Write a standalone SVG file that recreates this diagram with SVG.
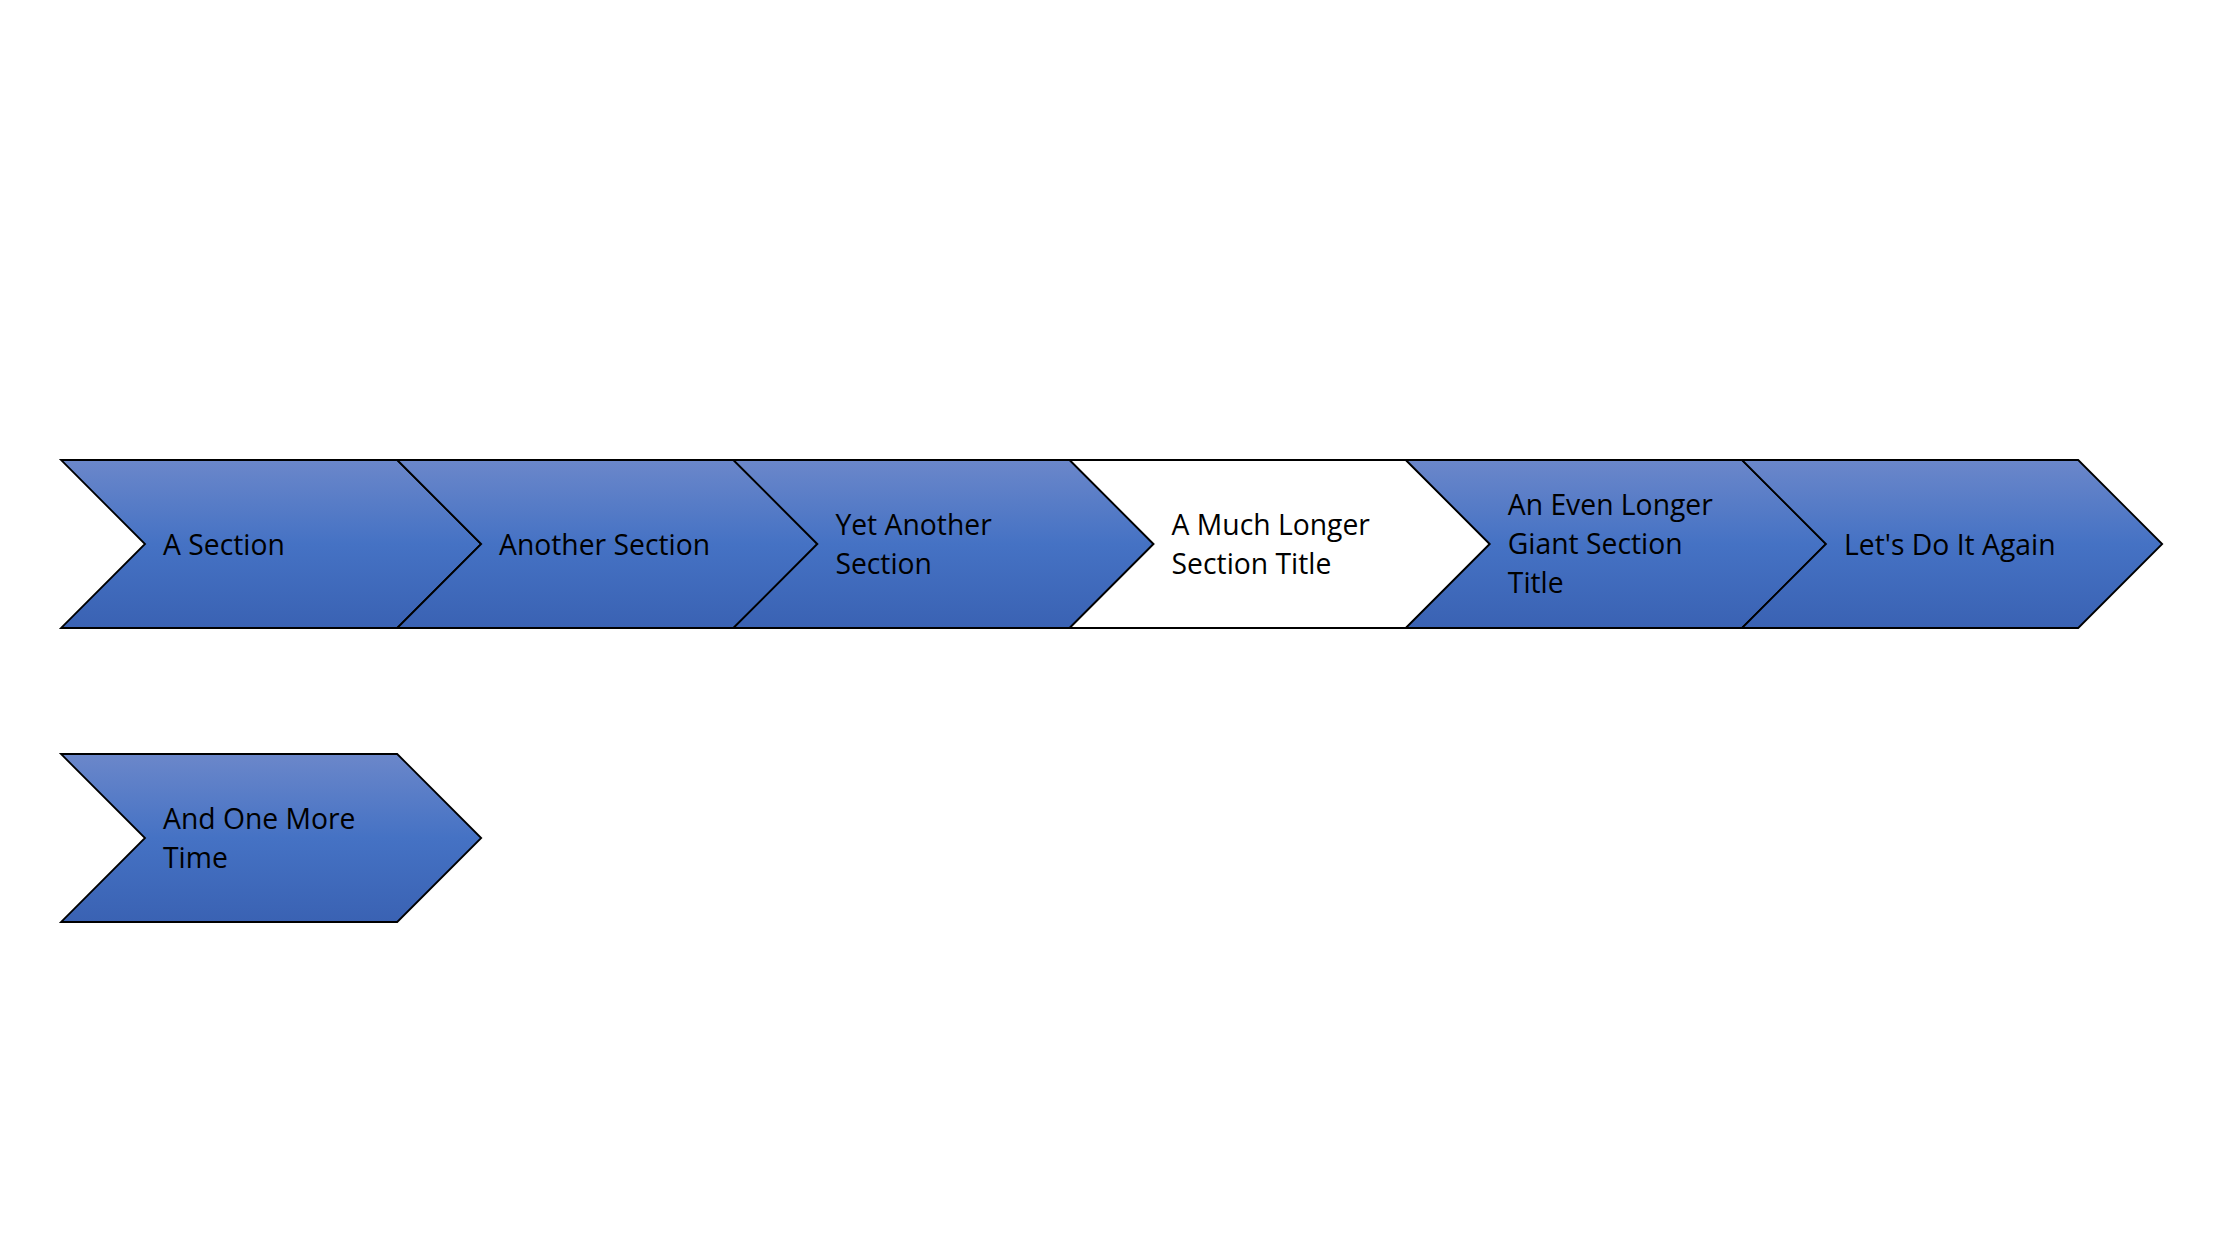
<svg xmlns="http://www.w3.org/2000/svg" width="2226" height="1244" viewBox="0 0 2226 1244">
<defs>
<linearGradient id="blueGrad" x1="0" y1="0" x2="0" y2="1">
<stop offset="0" stop-color="#6B87CA"/>
<stop offset="0.5" stop-color="#4572C4"/>
<stop offset="1" stop-color="#3A62B3"/>
</linearGradient>
<style>
.chev{fill:url(#blueGrad);stroke:#000;stroke-width:1.8;stroke-linejoin:miter}
.chev.white{fill:#FFFFFF}
.lbl{font-family:"Open Sans","Noto Sans","Liberation Sans",sans-serif;font-size:28.3px;fill:#000}
</style>
</defs>
<rect x="0" y="0" width="2226" height="1244" fill="#FFFFFF"/>
<g id="connectors"></g>
<g id="node1">
<polygon class="chev" points="61,460 397.2,460 481.2,544 397.2,628 61,628 145,544"/>
<text class="lbl" x="163" y="555">A Section</text>
</g>
<g id="node2">
<polygon class="chev" points="397.2,460 733.4,460 817.4,544 733.4,628 397.2,628 481.2,544"/>
<text class="lbl" x="499" y="555">Another Section</text>
</g>
<g id="node3">
<polygon class="chev" points="733.4,460 1069.6,460 1153.6,544 1069.6,628 733.4,628 817.4,544"/>
<text class="lbl" x="835.4" y="535">Yet Another</text>
<text class="lbl" x="835.4" y="574">Section</text>
</g>
<g id="node4">
<polygon class="chev white" points="1069.6,460 1405.8,460 1489.8,544 1405.8,628 1069.6,628 1153.6,544"/>
<text class="lbl" x="1171.6" y="535">A Much Longer</text>
<text class="lbl" x="1171.6" y="574">Section Title</text>
</g>
<g id="node5">
<polygon class="chev" points="1405.8,460 1742,460 1826,544 1742,628 1405.8,628 1489.8,544"/>
<text class="lbl" x="1507.8" y="514.5">An Even Longer</text>
<text class="lbl" x="1507.8" y="553.5">Giant Section</text>
<text class="lbl" x="1507.8" y="592.5">Title</text>
</g>
<g id="node6">
<polygon class="chev" points="1742,460 2078.2,460 2162.2,544 2078.2,628 1742,628 1826,544"/>
<text class="lbl" x="1844" y="555">Let's Do It Again</text>
</g>
<g id="node7">
<polygon class="chev" points="61,754 397.2,754 481.2,838 397.2,922 61,922 145,838"/>
<text class="lbl" x="163" y="829">And One More</text>
<text class="lbl" x="163" y="868">Time</text>
</g>
</svg>
